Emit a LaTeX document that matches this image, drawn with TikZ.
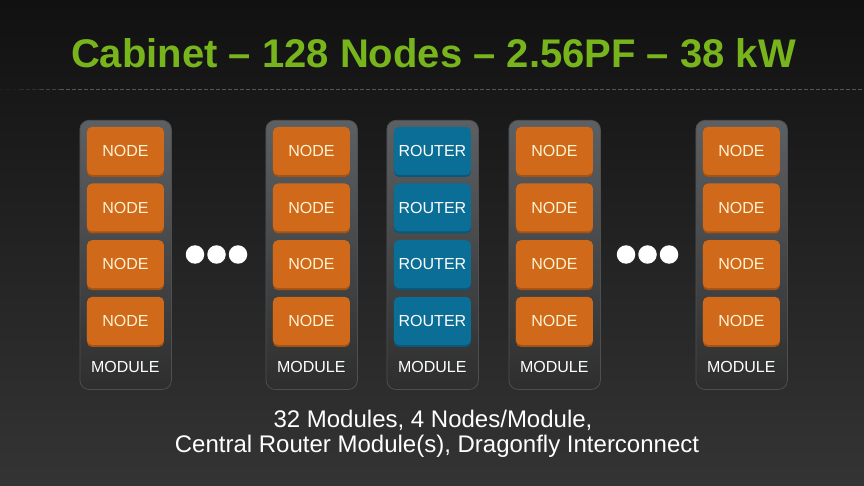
\documentclass[tikz,border=0pt]{standalone}
\usepackage{fontspec}
\setmainfont{Liberation Sans}
\usetikzlibrary{shadows}
\definecolor{bgtop}{HTML}{111111}
\definecolor{bgmid}{HTML}{272727}
\definecolor{bgbot}{HTML}{343434}
\definecolor{titlegreen}{HTML}{78B51C}
\definecolor{paneltop}{HTML}{5D6063}
\definecolor{panelmid}{HTML}{4C4F52}
\definecolor{panelbot}{HTML}{2E2E2E}
\definecolor{panelline}{HTML}{4E4F51}
\definecolor{nodeorange}{HTML}{D0691A}
\definecolor{nodeshade}{HTML}{A55213}
\definecolor{routerblue}{HTML}{0A6E96}
\definecolor{routershade}{HTML}{07587A}
\definecolor{cream}{HTML}{FFF3D2}
\definecolor{dashgray}{HTML}{555555}
\begin{document}
\begin{tikzpicture}[x=1pt,y=-1pt,
  panel/.style={rounded corners=9pt, draw=panelline, line width=0.8pt,
    top color=paneltop, middle color=panelmid, bottom color=panelbot, minimum width=91.5pt,
    minimum height=269pt, inner sep=0pt, anchor=north west},
  basebox/.style={rounded corners=5pt, minimum width=77pt, minimum height=48pt,
    inner sep=0pt, anchor=north west, font=\fontsize{16}{16}\selectfont},
  nodebox/.style={basebox, fill=nodeorange, text=cream,
    general shadow={fill=nodeshade, shadow yshift=-2pt}},
  routerbox/.style={basebox, fill=routerblue, text=white,
    general shadow={fill=routershade, shadow yshift=-2pt}},
  modlabel/.style={text=white, font=\fontsize{16}{16}\selectfont, anchor=base},
  dot/.style={circle, fill=white, minimum size=18.5pt, inner sep=0pt},
  dashline/.style={draw=dashgray, line width=1.5pt, dash pattern=on 4pt off 2pt}
]
\useasboundingbox (0,0) rectangle (864,486);
\shade[top color=bgtop, middle color=bgmid, bottom color=bgbot] (0,0) rectangle (864,486);

% title
\node[text=titlegreen, font=\bfseries\fontsize{40}{40}\selectfont, anchor=base]
  (title) at (433.5,68) {Cabinet – 128 Nodes – 2.56PF – 38 kW};

% dashed separator
\coordinate (sepA) at (0,89.5);
\coordinate (sepB) at (20,89.5);
\coordinate (sepC) at (40,89.5);
\coordinate (sepD) at (60,89.5);
\coordinate (sepE) at (864,89.5);
\draw[dashline, opacity=0.15] (sepA) -- (sepB);
\draw[dashline, opacity=0.4] (sepB) -- (sepC);
\draw[dashline, opacity=0.7] (sepC) -- (sepD);
\draw[dashline] (sepD) -- (sepE);

% panels
\foreach \i/\x in {1/79.5, 2/265.5, 3/386.5, 4/508.5, 5/695.5} {
  \node[panel] (panel\i) at (\x,120) {};
  \node[modlabel] (module\i) at (\x+45.75,372.5) {MODULE};
}

% boxes
\foreach \i/\x in {1/79.5, 2/265.5, 4/508.5, 5/695.5} {
  \foreach \r/\y in {1/126.7, 2/183.3, 3/240, 4/296.7} {
    \node[nodebox] (n\i\r) at (\x+7.25,\y) {NODE};
  }
}
\foreach \r/\y in {1/126.7, 2/183.3, 3/240, 4/296.7} {
  \node[routerbox] (r\r) at (386.5+7.25,\y) {ROUTER};
}

% ellipsis dots
\foreach \k/\x in {1/195, 2/216.5, 3/238, 4/626, 5/647.5, 6/669} {
  \node[dot] (dot\k) at (\x,254.5) {};
}

% caption
\node[text=white, font=\fontsize{24}{29}\selectfont, anchor=base]
  (cap1) at (433,427) {32 Modules, 4 Nodes/Module,};
\node[text=white, font=\fontsize{24}{29}\selectfont, anchor=base]
  (cap2) at (437,452) {Central Router Module(s), Dragonfly Interconnect};
\end{tikzpicture}
\end{document}
